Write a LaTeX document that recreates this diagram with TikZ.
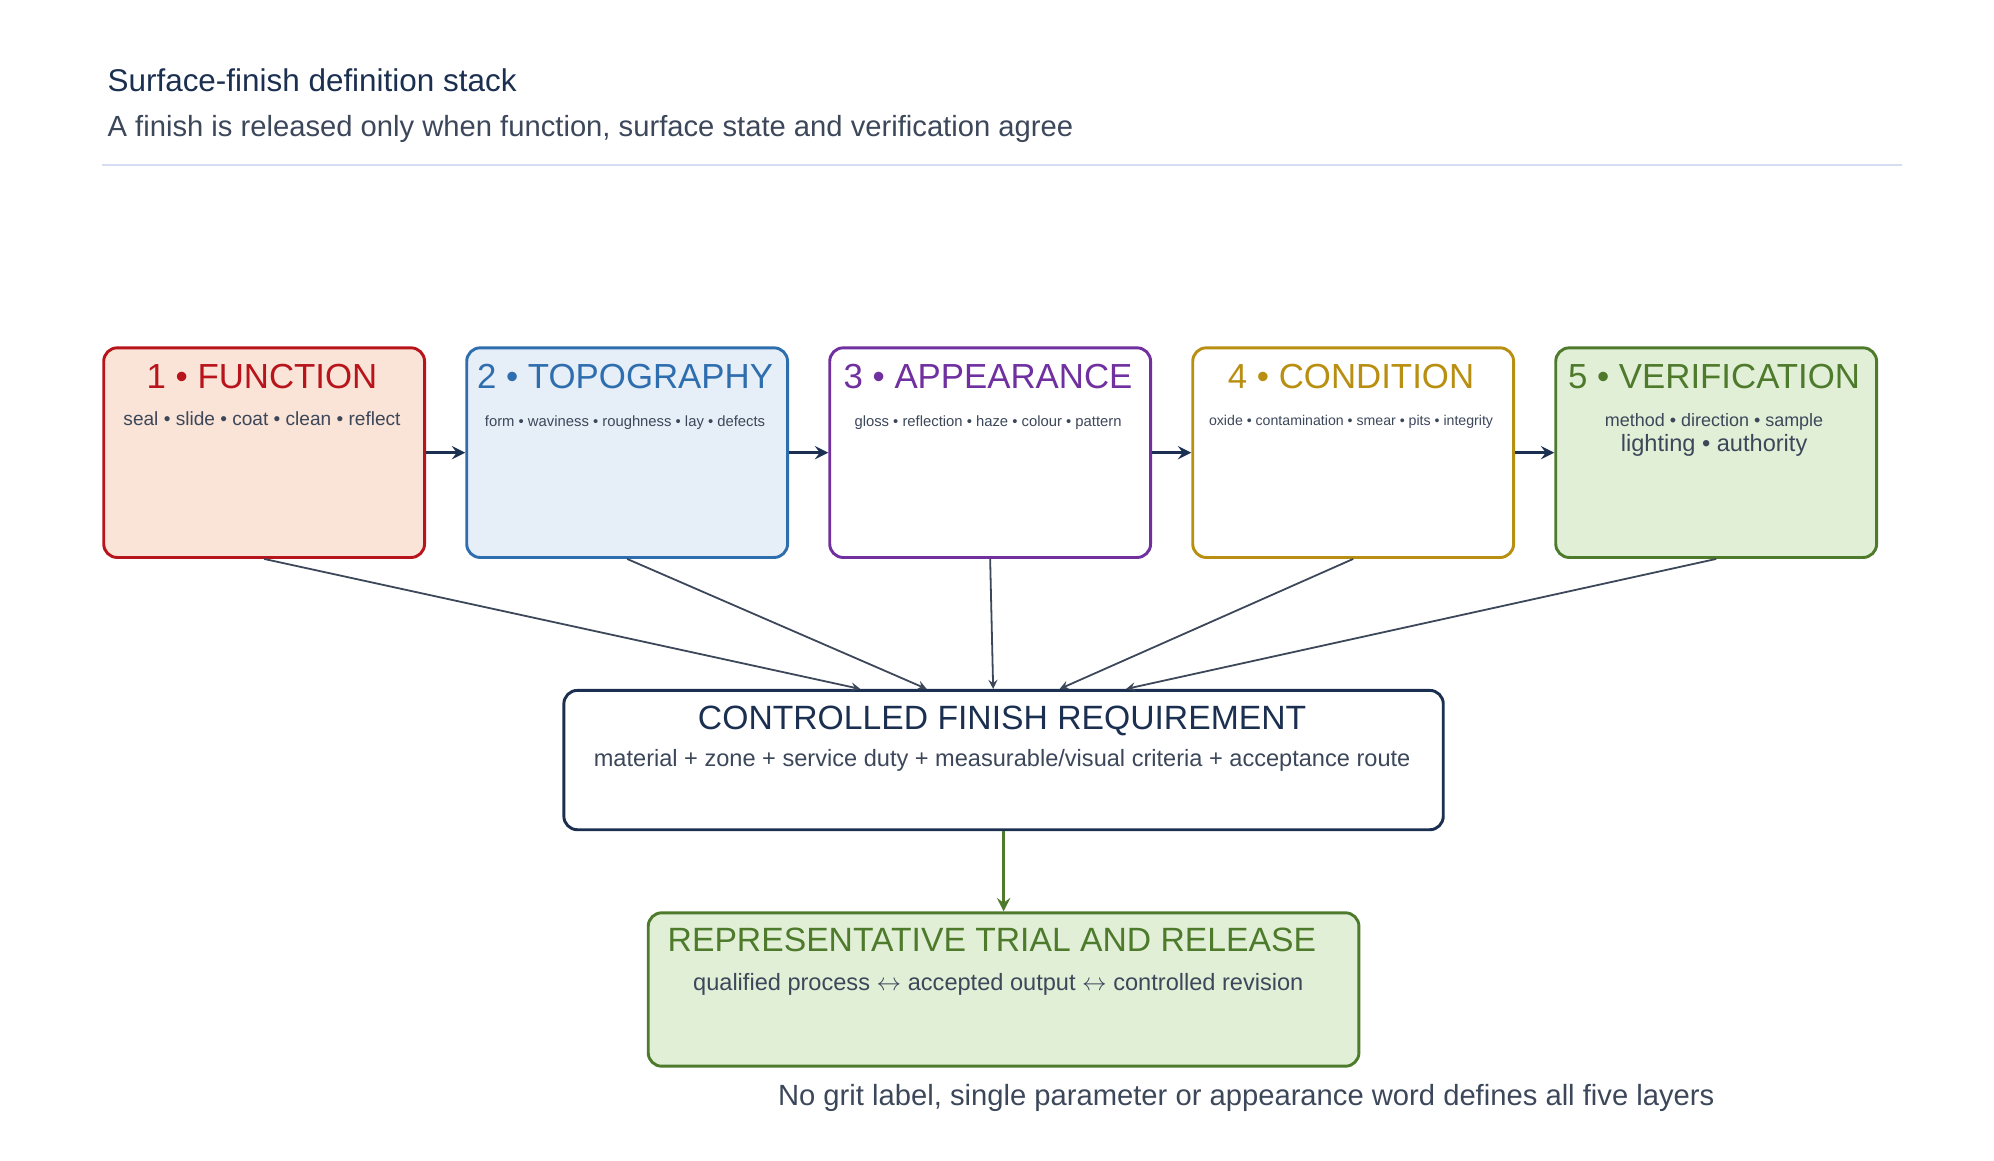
\documentclass[tikz,border=0pt]{standalone}
\usepackage{fontspec}
\setmainfont{Liberation Sans}
\usetikzlibrary{positioning}
\definecolor{navy}{HTML}{1B2F50}
\definecolor{slate}{HTML}{3C475A}
\definecolor{fnred}{HTML}{B8141B}
\definecolor{fnredbg}{HTML}{FAE3D7}
\definecolor{topblue}{HTML}{2F6EAE}
\definecolor{topbluebg}{HTML}{E6EEF7}
\definecolor{apppurple}{HTML}{7030A0}
\definecolor{condgold}{HTML}{B88F10}
\definecolor{vergreen}{HTML}{4E7A2C}
\definecolor{vergreenbg}{HTML}{E1EFD7}
\definecolor{rulelav}{HTML}{D6DCF2}
\tikzset{
    layer/.style={draw=#1, line width=1.3pt, rounded corners=6pt, minimum width=251*0.02cm, minimum height=164*0.02cm, anchor=north west},
    head/.style={font=\fontsize{15.5}{18}\selectfont, anchor=north},
    note/.style={font=\fontsize{#1}{10}\selectfont, text=slate, anchor=north},
    feed/.style={->, >=stealth, slate, line width=0.8pt},
    chain arrow/.style={->, >=stealth, navy, line width=1.6pt}
}
\begin{document}
\begin{tikzpicture}[x=0.02cm, y=-0.02cm]
    \useasboundingbox (0,0) rectangle (1560,908);
    \node[anchor=west, navy, font=\fontsize{14}{16}\selectfont] (title) at (78,63) {Surface-finish definition stack};
    \node[anchor=west, slate, font=\fontsize{13}{15}\selectfont] (sub) at (78,101) {A finish is released only when function, surface state and verification agree};
    \draw[rulelav, line width=1pt] (80,129) -- (1488,129);

    % the five layers
    \node[layer=fnred, fill=fnredbg] (fun) at (80,271) {};
    \node[layer=topblue, fill=topbluebg] (top) at (364,271) {};
    \node[layer=apppurple, fill=white] (app) at (648,271) {};
    \node[layer=condgold, fill=white] (cond) at (932,271) {};
    \node[layer=vergreen, fill=vergreenbg] (ver) at (1216,271) {};

    \node[head, fnred] at (205,279) {1 • FUNCTION};
    \node[note=8.5] at (205,316) {seal • slide • coat • clean • reflect};
    \node[head, topblue] at (489,279) {2 • TOPOGRAPHY};
    \node[note=6.6] at (489,319) {form • waviness • roughness • lay • defects};
    \node[head, apppurple] at (773,279) {3 • APPEARANCE};
    \node[note=6.6] at (773,319) {gloss • reflection • haze • colour • pattern};
    \node[head, condgold] at (1057,279) {4 • CONDITION};
    \node[note=6.3] at (1057,319) {oxide • contamination • smear • pits • integrity};
    \node[head, vergreen] at (1341,279) {5 • VERIFICATION};
    \node[note=8] at (1341,317) {method • direction • sample};
    \node[note=10.5] at (1341,334) {lighting • authority};

    \draw[chain arrow] (fun.east) -- (top.west);
    \draw[chain arrow] (top.east) -- (app.west);
    \draw[chain arrow] (app.east) -- (cond.west);
    \draw[chain arrow] (cond.east) -- (ver.west);

    % requirement
    \node[draw=navy, line width=1.3pt, rounded corners=6pt, minimum width=688*0.02cm, minimum height=109*0.02cm, anchor=north west, fill=white] (req) at (440,539) {};
    \node[anchor=north, navy, font=\fontsize{15}{17}\selectfont] at (784,546) {CONTROLLED FINISH REQUIREMENT};
    \node[note=10.5] at (784,580) {material + zone + service duty + measurable/visual criteria + acceptance route};

    \draw[feed] (fun.south) -- (673,539);
    \draw[feed] (top.south) -- (725,539);
    \draw[feed] (app.south) -- (777,539);
    \draw[feed] (cond.south) -- (829,539);
    \draw[feed] (ver.south) -- (881,539);

    % release
    \node[draw=vergreen, line width=1.3pt, rounded corners=6pt, minimum width=556*0.02cm, minimum height=120*0.02cm, anchor=north west, fill=vergreenbg] (rel) at (506,713) {};
    \node[anchor=north, vergreen, font=\fontsize{15}{17}\selectfont] at (776,720) {REPRESENTATIVE TRIAL AND RELEASE};
    \node[note=10.5] at (781,755) {qualified process $\leftrightarrow$ accepted output $\leftrightarrow$ controlled revision};
    \draw[->, >=stealth, vergreen, line width=1.6pt] (req.south) -- (rel.north);

    \node[slate, font=\fontsize{13}{15}\selectfont] (foot) at (975,859) {No grit label, single parameter or appearance word defines all five layers};
\end{tikzpicture}
\end{document}
